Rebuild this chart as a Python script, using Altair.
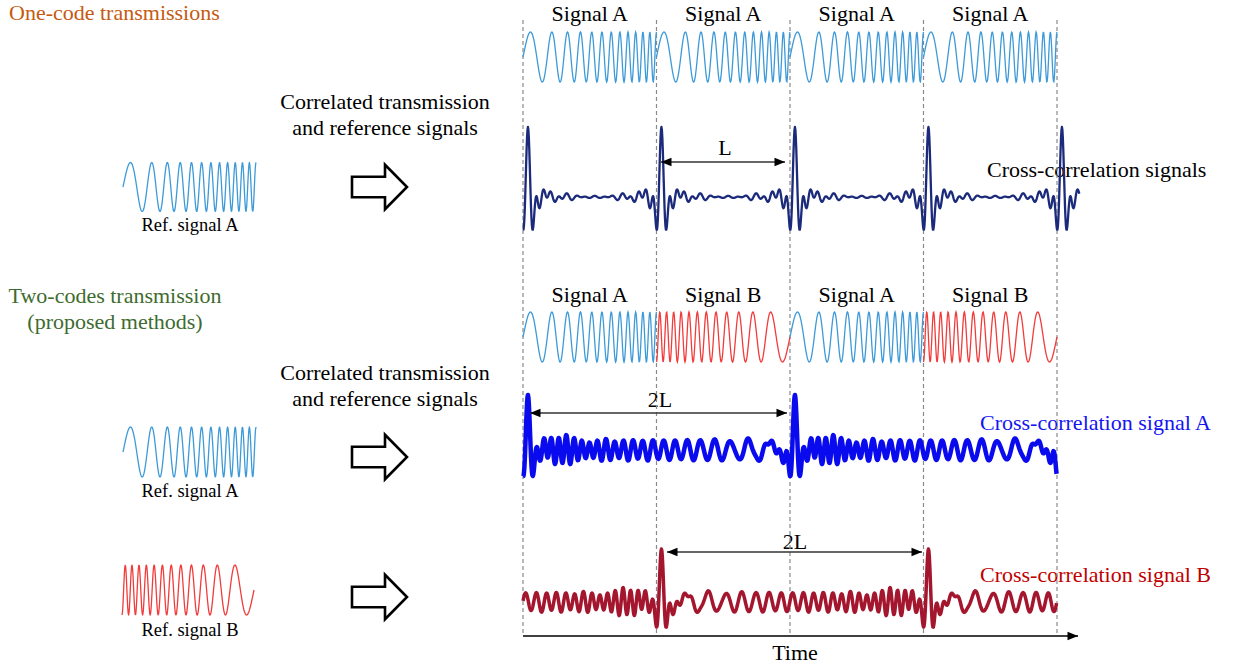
import numpy as np
import pandas as pd
import altair as alt

W, H = 1242, 668

# ---------------------------------------------------------------- data
# Code A is a linear up-chirp, code B is its time-reversed (down) version.
CHIRP_CYCLES = [4.0, 20.5]            # instantaneous frequency at start / end, cycles per code period
ONE_CODE = ["A", "A", "A", "A"]       # one-code transmission sequence
TWO_CODE = ["A", "B", "A", "B"]       # two-codes transmission sequence
ONE_TITLES = ["Signal A", "Signal A", "Signal A", "Signal A"]
TWO_TITLES = ["Signal A", "Signal B", "Signal A", "Signal B"]
SAMPLES = 300                         # samples per code period

# ---------------------------------------------------------------- layout
T0 = 523.0          # pixel of time zero on the time line
PERIOD = 133.5      # pixels per code period
PEAK_SHIFT = 0.037  # small display delay of the correlation output (code periods)
BOUNDS = [T0 + i * PERIOD for i in range(5)]

SERIF = "Liberation Serif"
BLUE_SIG = "#3d9ad8"
RED_SIG = "#f23b3b"
FS = 22


def code_wave(code, closed=False):
    n = SAMPLES + (1 if closed else 0)
    t = np.arange(n) / SAMPLES
    f0, f1 = CHIRP_CYCLES
    up = np.sin(2 * np.pi * (f0 * t + 0.5 * (f1 - f0) * t ** 2))
    if code == "A":
        return t, up
    return t, -up[::-1]


def transmission_frame(codes, center, amp, row):
    parts = []
    for i, c in enumerate(codes):
        t, w = code_wave(c, closed=True)
        parts.append(pd.DataFrame({
            "x": T0 + (i + t) * PERIOD,
            "y": center - amp * w,
            "code": c,
            "seg": f"{row}-{i}",
        }))
    return pd.concat(parts, ignore_index=True)


def reference_frame(code, x0, x1, center, amp):
    t, w = code_wave(code, closed=True)
    return pd.DataFrame({"x": x0 + t * (x1 - x0), "y": center - amp * w})


def xcorr_frame(codes, ref_code, t_end, base, peak):
    period = np.concatenate([code_wave(c)[1] for c in codes])
    ext = np.tile(period, 3)                      # periodic continuation on both sides
    ref = code_wave(ref_code)[1]
    cc = np.correlate(ext, ref, mode="valid")
    lag = (np.arange(cc.size) - period.size) / SAMPLES
    cc = cc / np.abs(cc).max()
    keep = (lag >= -PEAK_SHIFT) & (lag <= t_end - PEAK_SHIFT)
    return pd.DataFrame({
        "x": T0 + (lag[keep] + PEAK_SHIFT) * PERIOD,
        "y": base - peak * cc[keep],
    })


xs = alt.Scale(domain=[0, W], range=[0, W], nice=False)
ys = alt.Scale(domain=[0, H], range=[0, H], nice=False)
X = alt.X("x:Q", scale=xs, axis=None)
Y = alt.Y("y:Q", scale=ys, axis=None)


def text_layer(rows, size=FS, color="black", align="center"):
    df = pd.DataFrame(rows, columns=["x", "y", "text"])
    return alt.Chart(df).mark_text(
        font=SERIF, fontSize=size, color=color, align=align, baseline="middle"
    ).encode(x=X, y=Y, text="text:N")


def line_layer(df, color, width):
    df = df.copy()
    df["idx"] = np.arange(len(df))
    return alt.Chart(df).mark_line(color=color, strokeWidth=width, strokeJoin="round").encode(
        x=X, y=Y, order="idx:Q")


layers = []

# texts drawn first so signal lines sit on top
layers.append(text_layer([(9, 13, "One-code transmissions")], color="#c55a11", align="left"))
layers.append(text_layer([(115, 296, "Two-codes transmission"), (115, 322, "(proposed methods)")],
                         color="#3e6b2e"))
layers.append(text_layer([(T0 + (i + 0.5) * PERIOD, 14, s) for i, s in enumerate(ONE_TITLES)]
                         + [(T0 + (i + 0.5) * PERIOD, 295, s) for i, s in enumerate(TWO_TITLES)]))
layers.append(text_layer([(385, 102, "Correlated transmission"), (385, 128, "and reference signals"),
                          (385, 373, "Correlated transmission"), (385, 399, "and reference signals")]))
layers.append(text_layer([(987, 170, "Cross-correlation signals")], align="left"))
layers.append(text_layer([(980, 423, "Cross-correlation signal A")], color="#1515f0", align="left"))
layers.append(text_layer([(980, 575, "Cross-correlation signal B")], color="#c00000", align="left"))
layers.append(text_layer([(190, 225, "Ref. signal A"), (190, 491, "Ref. signal A"),
                          (190, 630, "Ref. signal B")], size=18.5))
layers.append(text_layer([(725, 148, "L"), (660, 400, "2L"), (795, 542, "2L"), (795, 653, "Time")]))

# dashed code-period boundaries
bounds = pd.DataFrame({"x": BOUNDS, "y": 20.0, "y2": 636.0})
layers.append(alt.Chart(bounds).mark_rule(color="#8a8a8a", strokeWidth=1.2, strokeDash=[4, 3])
              .encode(x=X, y=Y, y2="y2:Q"))

# transmitted sequences
code_color = alt.Color("code:N", scale=alt.Scale(domain=["A", "B"], range=[BLUE_SIG, RED_SIG]), legend=None)
for df in (transmission_frame(ONE_CODE, 57, 25, "one"), transmission_frame(TWO_CODE, 337, 25, "two")):
    df["idx"] = np.arange(len(df))
    layers.append(alt.Chart(df).mark_line(strokeWidth=1.3).encode(
        x=X, y=Y, color=code_color, detail="seg:N", order="idx:Q"))

# reference signals
layers.append(line_layer(reference_frame("A", 123, 256, 187, 24.5), BLUE_SIG, 1.3))
layers.append(line_layer(reference_frame("A", 123, 256, 452, 25), BLUE_SIG, 1.3))
layers.append(line_layer(reference_frame("B", 122, 254, 590, 25), RED_SIG, 1.3))

# cross-correlation outputs
layers.append(line_layer(xcorr_frame(ONE_CODE, "A", 4.17, 197, 70), "#1b2a7b", 2.3))
layers.append(line_layer(xcorr_frame(TWO_CODE, "A", 4.0, 450, 55), "#0a0aee", 4.5))
layers.append(line_layer(xcorr_frame(TWO_CODE, "B", 4.0, 602, 53), "#a3162e", 3.5))

# hollow block arrows
BLOCK = "M -1 -0.375 L 0.2 -0.375 L 0.2 -0.81 L 1 0 L 0.2 0.81 L 0.2 0.375 L -1 0.375 Z"
blocks = pd.DataFrame({"x": [379.5, 379.5, 379.5], "y": [187, 457, 597]})
layers.append(alt.Chart(blocks).mark_point(
    shape=BLOCK, size=3025, filled=True, fill="white", stroke="black", strokeWidth=2.6, opacity=1
).encode(x=X, y=Y))

# dimension arrows (L, 2L) and the time line
HEAD_R = "M 0 0 L -2 -0.8 L -2 0.8 Z"
HEAD_L = "M 0 0 L 2 -0.8 L 2 0.8 Z"
spans = pd.DataFrame({"x": [661, 530, 667], "x2": [785, 787, 922], "y": [162, 413, 552]})
layers.append(alt.Chart(spans).mark_rule(color="#333333", strokeWidth=1.5).encode(x=X, x2="x2:Q", y=Y))
left_heads = spans[["x", "y"]]
right_heads = spans[["x2", "y"]].rename(columns={"x2": "x"})
layers.append(alt.Chart(left_heads).mark_point(shape=HEAD_L, size=110, filled=True, color="black", opacity=1)
              .encode(x=X, y=Y))
layers.append(alt.Chart(right_heads).mark_point(shape=HEAD_R, size=110, filled=True, color="black", opacity=1)
              .encode(x=X, y=Y))

time_line = pd.DataFrame({"x": [T0], "x2": [1078], "y": [636]})
layers.append(alt.Chart(time_line).mark_rule(color="black", strokeWidth=1.6).encode(x=X, x2="x2:Q", y=Y))
layers.append(alt.Chart(time_line[["x2", "y"]].rename(columns={"x2": "x"}))
              .mark_point(shape=HEAD_R, size=110, filled=True, color="black", opacity=1).encode(x=X, y=Y))

chart = alt.layer(*layers).properties(
    width=W, height=H, padding=0, autosize=alt.AutoSizeParams(type="none"), background="white"
).configure_view(stroke=None)

chart.save("out.html", embed_options={"renderer": "svg", "actions": False})
